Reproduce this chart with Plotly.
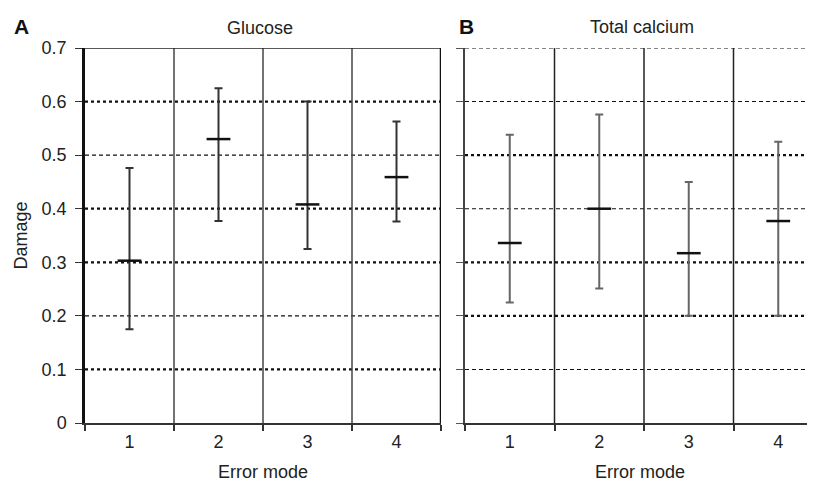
import plotly.graph_objects as go

categories = [1, 2, 3, 4]
category_labels = ["1", "2", "3", "4"]
y_ticks = [0, 0.1, 0.2, 0.3, 0.4, 0.5, 0.6, 0.7]
y_tick_labels = ["0", "0.1", "0.2", "0.3", "0.4", "0.5", "0.6", "0.7"]

glucose_mean = [0.303, 0.530, 0.408, 0.459]
glucose_low = [0.175, 0.377, 0.325, 0.376]
glucose_high = [0.476, 0.625, 0.600, 0.563]

calcium_mean = [0.336, 0.400, 0.317, 0.377]
calcium_low = [0.225, 0.251, 0.200, 0.200]
calcium_high = [0.538, 0.576, 0.450, 0.525]

glucose_grid_bold = [0.1, 0.3, 0.4, 0.6]
glucose_grid_thin = [0.2, 0.5]
calcium_grid_bold = [0.2, 0.3, 0.5]
calcium_grid_thin = [0.1, 0.4, 0.6, 0.7]
separators = [1.5, 2.5, 3.5]

# page has an 8px body margin; compensate so plot lands at page px 85..(815), 48..423
OFF = 8
W, H = 815 - OFF, 482 - OFF
ML, MT = 85 - OFF, 48 - OFF
MB = H - (423 - OFF)
PW = W - ML
PH = H - MT - MB
FONT = "Liberation Sans, Arial, sans-serif"
FS = 18


def px(page_x):
    return (page_x - 85) / PW


def py(page_y):
    return (423 - page_y) / PH


fig = go.Figure()


def add_panel(mean, low, high, xa, ya, bar_color):
    fig.add_trace(go.Scatter(
        x=categories, y=mean, xaxis=xa, yaxis=ya, mode="markers",
        marker=dict(symbol="line-ew", size=17, line=dict(width=2.5, color="#111")),
        error_y=dict(type="data", symmetric=False,
                     array=[h - m for h, m in zip(high, mean)],
                     arrayminus=[m - l for m, l in zip(mean, low)],
                     color=bar_color, thickness=2, width=4),
        showlegend=False, hoverinfo="skip", cliponaxis=False))


add_panel(glucose_mean, glucose_low, glucose_high, "x", "y", "#333")
add_panel(calcium_mean, calcium_low, calcium_high, "x2", "y2", "#666")

shapes = []


def hline(v, xref, yref, bold, x1):
    shapes.append(dict(type="line", xref=xref, yref=yref, x0=0.5, x1=x1, y0=v, y1=v,
                       line=dict(color="#111", width=2.2 if bold else 1.1,
                                 dash="3px,3px" if bold else "4px,3px"), layer="below"))


for v in glucose_grid_bold:
    hline(v, "x", "y", True, 4.5)
for v in glucose_grid_thin:
    hline(v, "x", "y", False, 4.5)
for v in calcium_grid_bold:
    hline(v, "x2", "y2", True, 4.6)
for v in calcium_grid_thin:
    hline(v, "x2", "y2", False, 4.6)

for s in separators:
    shapes.append(dict(type="line", xref="x", yref="y", x0=s, x1=s, y0=0, y1=0.7,
                       line=dict(color="#444", width=1.5), layer="below"))
    shapes.append(dict(type="line", xref="x2", yref="y2", x0=s, x1=s, y0=0, y1=0.7,
                       line=dict(color="#222", width=1.5), layer="below"))
# panel A top and right border
shapes.append(dict(type="line", xref="x", yref="y", x0=0.5, x1=4.5, y0=0.7, y1=0.7,
                   line=dict(color="#222", width=1.5)))
shapes.append(dict(type="line", xref="x", yref="y", x0=4.5, x1=4.5, y0=0, y1=0.7,
                   line=dict(color="#111", width=2.5)))

fig.update_layout(shapes=shapes)

tfont = dict(size=FS, color="#222", family=FONT)
common_x = dict(range=[0.5, 4.5], tickvals=categories, ticktext=category_labels,
                ticks="", showgrid=False, zeroline=False, showline=True,
                linecolor="#333", linewidth=1.5, automargin=False,
                tickfont=tfont, ticklabelstandoff=2,
                minor=dict(tickvals=[0.5, 1.5, 2.5, 3.5, 4.5], ticks="outside",
                           ticklen=6, tickcolor="#333", tickwidth=1.5, showgrid=False),
                title=dict(text="Error mode", font=tfont, standoff=18))
fig.update_layout(
    width=W, height=H, margin=dict(l=ML, r=0, t=MT, b=MB, autoexpand=False),
    paper_bgcolor="white", plot_bgcolor="white",
    font=dict(family=FONT, color="#222"),
    xaxis=dict(common_x, domain=[0, 356 / PW]),
    xaxis2=dict(common_x, domain=[380 / PW, 1.0],
                range=[0.5, 0.5 + 4 * (PW - 380) / 358], anchor="y2"),
    yaxis=dict(range=[0, 0.7], tickvals=y_ticks, ticktext=y_tick_labels,
               ticks="outside", ticklen=7, tickcolor="#333", tickwidth=1.2,
               showgrid=False, zeroline=False, showline=True, linecolor="#111", linewidth=2.5,
               tickfont=tfont, automargin=False, ticklabelstandoff=5,
               title=dict(text="Damage", font=tfont, standoff=10)),
    yaxis2=dict(range=[0, 0.7], tickvals=y_ticks, showticklabels=False, automargin=False,
                ticks="outside", ticklen=7, tickcolor="#555", tickwidth=1.2, anchor="x2",
                showgrid=False, zeroline=False, showline=True, linecolor="#444", linewidth=1.8),
    annotations=[
        dict(text="Glucose", x=px(260), y=py(28), xref="paper", yref="paper",
             xanchor="center", yanchor="middle", showarrow=False, font=tfont),
        dict(text="Total calcium", x=px(642), y=py(27), xref="paper", yref="paper",
             xanchor="center", yanchor="middle", showarrow=False, font=tfont),
        dict(text="<b>A</b>", x=px(21), y=py(26), xref="paper", yref="paper",
             xanchor="center", yanchor="middle", showarrow=False,
             font=dict(size=21, color="#111", family=FONT)),
        dict(text="<b>B</b>", x=px(467), y=py(26), xref="paper", yref="paper",
             xanchor="center", yanchor="middle", showarrow=False,
             font=dict(size=21, color="#111", family=FONT)),
    ],
)

fig.write_html("out.html")
